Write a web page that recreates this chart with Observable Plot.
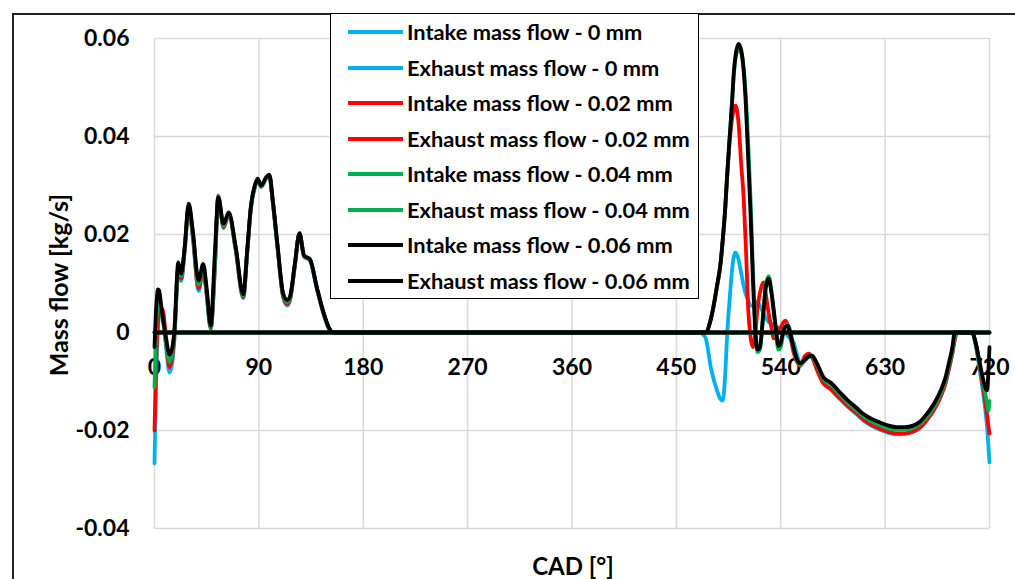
<!DOCTYPE html>
<html>
<head>
<meta charset="utf-8">
<script src="https://cdn.jsdelivr.net/npm/d3@7"></script>
<script src="https://cdn.jsdelivr.net/npm/@observablehq/plot@0.6"></script>
<style>
  html, body { margin: 0; padding: 0; background: #fff; }
  #wrap { position: relative; width: 1015px; height: 579px; overflow: hidden; font-family: Lato, "Liberation Sans", sans-serif; font-weight: 700; color: #000; }
  #wrap svg { position: absolute; left: 0; top: 0; }
  #frame { position: absolute; left: 12px; top: 13px; width: 1010px; height: 600px; border-left: 2px solid #222; border-top: 2px solid #222; box-sizing: border-box; pointer-events: none; }
  #legend { position: absolute; left: 330px; top: 13px; width: 369px; height: 286px; background: #fff; border: 1.5px solid #000; box-sizing: border-box; }
  .item { position: absolute; left: 0; height: 30px; width: 100%; }
  .sw { position: absolute; left: 17px; width: 55px; height: 4px; top: 13px; }
  .lt { position: absolute; left: 76px; top: 0; line-height: 30px; font-size: 21.8px; white-space: nowrap; }
  .ytitle { position: absolute; left: 58px; top: 285px; transform: translate(-50%, -50%) rotate(-90deg); font-size: 25px; white-space: nowrap; }
  .xtitle { position: absolute; left: 573px; top: 565px; transform: translate(-50%, -50%); font-size: 24px; white-space: nowrap; }
</style>
</head>
<body>
<div id="wrap"></div>
<script>
// ---- tick values / labels ----
const xTicks = [0, 90, 180, 270, 360, 450, 540, 630, 720];
const yTicks = [-0.04, -0.02, 0, 0.02, 0.04, 0.06];
const yTickLabels = ["-0.04", "-0.02", "0", "0.02", "0.04", "0.06"];

// ---- series names and colours ----
const seriesNames = [
  "Intake mass flow - 0 mm", "Exhaust mass flow - 0 mm",
  "Intake mass flow - 0.02 mm", "Exhaust mass flow - 0.02 mm",
  "Intake mass flow - 0.04 mm", "Exhaust mass flow - 0.04 mm",
  "Intake mass flow - 0.06 mm", "Exhaust mass flow - 0.06 mm"
];
const seriesColors = ["#00B0F0", "#00B0F0", "#FF0000", "#FF0000", "#00B050", "#00B050", "#000000", "#000000"];

// ---- intake mass flow (CAD grid shared by the four lifts) ----
const cadIntake = [0,1,2,3,4,6,8,10,13,15,17,20.5,23,26,29.5,33,38,42,45,48.5,52,55,59.5,64,70,76.5,80,83,87,89,92,96,99,102,106,111,114.5,117,121,125,129,134,140,146,150,154,160,700,705,708,711,714,716,718,719,720];
const intake0 = [-0.0267,-0.014,-0.004,0.001,0.0035,0.004,0.002,-0.003,-0.0082,-0.0065,
  -0.002,0.012,0.0105,0.0165,0.0255,0.0195,0.0085,0.0125,0.0075,0.0007,
  0.013,0.028,0.0213,0.024,0.0168,0.007,0.0163,0.025,0.030,0.0311,
  0.0297,0.0313,0.032,0.0265,0.0175,0.0071,0.0055,0.0067,0.0135,0.0203,
  0.0155,0.0147,0.0089,0.0036,0.001,0,0,0,0,-0.0025,
  -0.0068,-0.0115,-0.015,-0.0195,-0.023,-0.0265];
const intake002 = [-0.020,-0.010,-0.002,0.002,0.004,0.005,0.0035,-0.002,-0.0071,-0.0055,
  -0.0012,0.0125,0.011,0.0168,0.0258,0.0198,0.009,0.013,0.0078,0.0009,
  0.013,0.0278,0.0215,0.0241,0.017,0.0072,0.0165,0.0252,0.0302,0.0312,
  0.0298,0.0314,0.032,0.0266,0.0176,0.0073,0.0058,0.0069,0.0136,0.0202,
  0.0155,0.0148,0.009,0.0037,0.001,0,0,0,0,-0.0022,
  -0.006,-0.0105,-0.0135,-0.017,-0.019,-0.0206];
const intake004 = [-0.0112,-0.002,0.004,0.0065,0.0068,0.0045,0.0012,-0.0025,-0.006,-0.0045,
  -0.0005,0.013,0.0115,0.0172,0.026,0.0203,0.0098,0.0135,0.0082,0.0011,
  0.0135,0.0275,0.0218,0.0243,0.0172,0.0075,0.0168,0.0253,0.0302,0.0312,
  0.0298,0.0314,0.032,0.0268,0.0178,0.0076,0.0062,0.0072,0.0138,0.0202,
  0.0156,0.0149,0.0091,0.0038,0.0011,0,0,0,0,-0.002,
  -0.0058,-0.0095,-0.012,-0.0145,-0.016,-0.014];
const intake006 = [-0.003,0.003,0.007,0.0088,0.0086,0.005,0.0018,-0.0012,-0.0045,-0.0035,
  0,0.0143,0.012,0.0174,0.0263,0.0208,0.0106,0.014,0.009,0.0014,
  0.016,0.0275,0.0222,0.0245,0.0175,0.0078,0.017,0.0255,0.0304,0.0314,
  0.030,0.0316,0.0322,0.027,0.018,0.0079,0.0066,0.0075,0.014,0.0202,
  0.0157,0.015,0.0092,0.0039,0.0012,0,0,0,0,-0.002,
  -0.0055,-0.009,-0.011,-0.0118,-0.008,-0.003];

// ---- exhaust mass flow (CAD grid shared by the four lifts) ----
const cadExhaust = [0,470,475,480,485,488,490,492,494,496,
  498,499.5,501,503.5,506,508,510,512,514,516,
  518,520,522,525,527,529.5,532,534,536,538,
  540,542,544,546,548,551,554,557,561,564,
  567,571,577,583,591,598,605,611,618,626,
  633,640,647,654,660,666,672,678,682,685,
  688,690,692,720];
const exhaust0 = [0,0,-0.001,-0.0075,-0.0118,-0.0136,-0.0139,-0.009,0.0004,0.007,
  0.0127,0.0155,0.0163,0.015,0.012,0.0095,0.0077,0.0065,0.0055,0.0055,
  0.006,0.0063,0.0055,0.004,0.003,0.0022,0.0017,0.0014,0.0012,0.001,
  0.0008,0.0005,0,-0.0007,-0.0012,-0.002,-0.0045,-0.0065,-0.0048,-0.0045,
  -0.005,-0.0073,-0.0103,-0.0116,-0.0136,-0.0152,-0.0166,-0.0179,-0.019,-0.0199,
  -0.0205,-0.0208,-0.0207,-0.0203,-0.0195,-0.0179,-0.0158,-0.013,-0.0104,-0.0074,
  -0.0042,-0.0015,0,0];
const exhaust002 = [0,0,0,0.003,0.0093,0.0138,0.0188,0.0248,0.0325,0.039,
  0.0435,0.0455,0.0463,0.043,0.034,0.0276,0.017,0.0045,-0.001,-0.003,
  -0.0005,0.005,0.008,0.0102,0.008,0.004,0.001,-0.0012,-0.0005,0.0005,
  0.001,0.002,0.0024,0.0015,-0.0005,-0.004,-0.006,-0.0068,-0.0048,-0.0043,
  -0.005,-0.0075,-0.0105,-0.0115,-0.0134,-0.015,-0.0164,-0.0177,-0.0188,-0.0197,
  -0.0203,-0.0206,-0.0206,-0.0202,-0.0194,-0.0178,-0.0158,-0.013,-0.0104,-0.0074,
  -0.0042,-0.0015,0,0];
const exhaust004 = [0,0,0,0.003,0.0093,0.0138,0.0188,0.0248,0.0328,0.040,
  0.047,0.0525,0.056,0.0577,0.057,0.054,0.048,0.038,0.027,0.013,
  0.002,-0.004,-0.0035,0.004,0.0095,0.0115,0.0085,0.004,-0.0005,-0.0035,
  -0.003,-0.0005,0.0012,0.0016,0.0005,-0.003,-0.0057,-0.0066,-0.0057,-0.005,
  -0.0048,-0.0065,-0.0096,-0.0106,-0.0127,-0.0144,-0.0158,-0.0171,-0.0181,-0.019,
  -0.0196,-0.0198,-0.0198,-0.0195,-0.0187,-0.0172,-0.0152,-0.0124,-0.0098,-0.0068,
  -0.0036,-0.001,0,0];
const exhaust006 = [0,0,0,0.003,0.0095,0.014,0.019,0.025,0.033,0.040,
  0.047,0.053,0.0565,0.0589,0.0575,0.0535,0.046,0.035,0.024,0.011,
  0.0005,-0.0035,-0.003,0.004,0.009,0.011,0.008,0.0045,0.0005,-0.0027,
  -0.002,0,0.0012,0.0014,0,-0.003,-0.0055,-0.0063,-0.0055,-0.0049,
  -0.0047,-0.0062,-0.0092,-0.0102,-0.0122,-0.0139,-0.0153,-0.0166,-0.0176,-0.0184,
  -0.019,-0.0193,-0.0193,-0.019,-0.0182,-0.0166,-0.0146,-0.0118,-0.0092,-0.0062,
  -0.003,0,0,0];

// ---- assemble series in drawing order ----
const seriesData = [
  [cadIntake, intake0], [cadExhaust, exhaust0],
  [cadIntake, intake002], [cadExhaust, exhaust002],
  [cadIntake, intake004], [cadExhaust, exhaust004],
  [cadIntake, intake006], [cadExhaust, exhaust006]
];
const tables = seriesData.map(([cads, vals], i) =>
  cads.map((c, j) => ({series: seriesNames[i], cad: c, v: vals[j]})));

const font = "Lato, 'Liberation Sans', sans-serif";

const chart = Plot.plot({
  width: 1015,
  height: 579,
  marginLeft: 154,
  marginRight: 26,
  marginTop: 38,
  marginBottom: 51,
  style: {fontFamily: font, fontWeight: "bold", fontSize: "23px", color: "#000", background: "transparent"},
  x: {domain: [0, 720], axis: null},
  y: {domain: [-0.04, 0.06], axis: null},
  marks: [
    Plot.ruleX(xTicks, {stroke: "#d9d9d9", strokeWidth: 1.5}),
    Plot.ruleY(yTicks, {stroke: "#d9d9d9", strokeWidth: 1.5}),
    Plot.axisY(yTicks, {label: null, tickSize: 0, tickPadding: 25, tickFormat: d => yTickLabels[yTicks.indexOf(d)], fontSize: 23, fontWeight: "bold", fill: "#000"}),
    Plot.text(xTicks, {x: d => d, y: () => 0, dy: 35, text: d => String(d), fontSize: 23, fontWeight: "bold", fill: "#000"}),
    ...tables.map((t, i) => Plot.line(t, {x: "cad", y: "v", stroke: seriesColors[i], strokeWidth: 3.8, curve: "monotone-x"}))
  ]
});

const wrap = document.getElementById("wrap");
wrap.appendChild(chart);

const frame = document.createElement("div");
frame.id = "frame";
wrap.appendChild(frame);

const yt = document.createElement("div");
yt.className = "ytitle";
yt.textContent = "Mass flow [kg/s]";
wrap.appendChild(yt);

const xt = document.createElement("div");
xt.className = "xtitle";
xt.textContent = "CAD [°]";
wrap.appendChild(xt);

const legend = document.createElement("div");
legend.id = "legend";
seriesNames.forEach((name, i) => {
  const it = document.createElement("div");
  it.className = "item";
  it.style.top = (3 + i * 35.5) + "px";
  const sw = document.createElement("div");
  sw.className = "sw";
  sw.style.background = seriesColors[i];
  const lt = document.createElement("div");
  lt.className = "lt";
  lt.textContent = name;
  it.appendChild(sw);
  it.appendChild(lt);
  legend.appendChild(it);
});
wrap.appendChild(legend);
</script>
</body>
</html>
